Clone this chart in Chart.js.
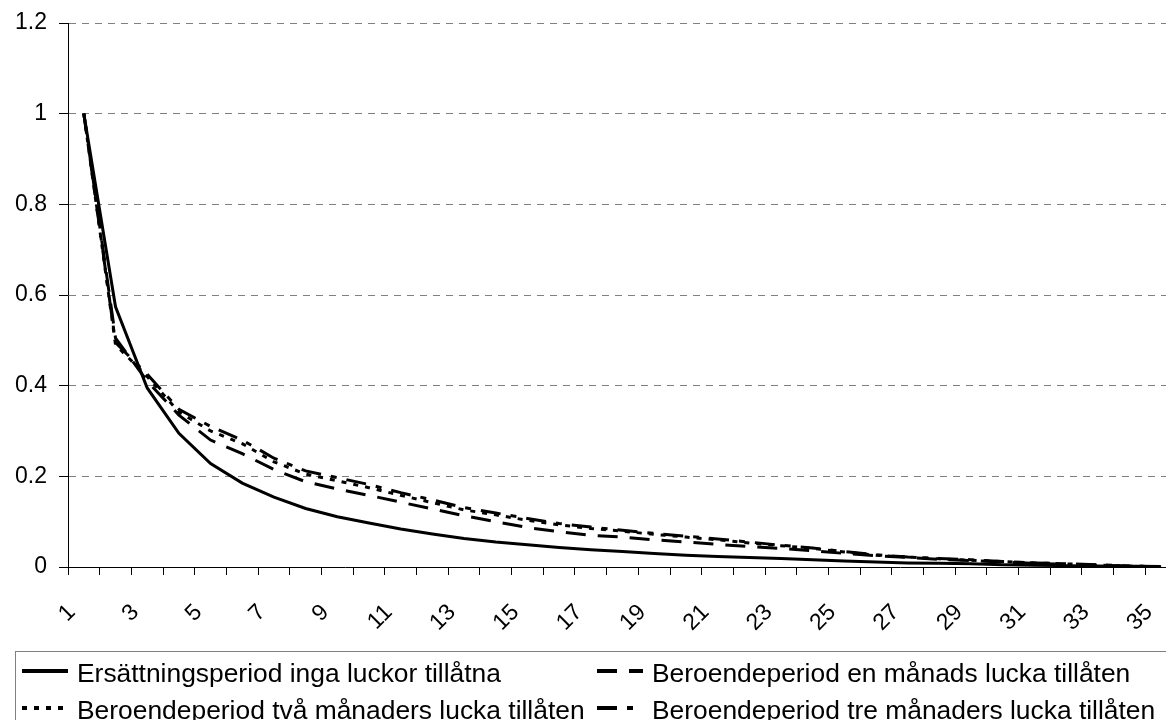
<!DOCTYPE html>
<html>
<head>
<meta charset="utf-8">
<script src="https://cdn.jsdelivr.net/npm/chart.js@4.4.0/dist/chart.umd.min.js"></script>
<style>
html,body{margin:0;padding:0;background:#fff;overflow:hidden;width:1166px;height:720px;}
#wrap{position:relative;width:1177px;height:720px;}
canvas{display:block;}
</style>
</head>
<body>
<div id="wrap"><canvas id="c" width="1177" height="720"></canvas></div>
<script>
// ---- data ----
const categories = Array.from({length: 35}, (_, i) => String(i + 1));
const seriesNames = [
  "Ersättningsperiod inga luckor tillåtna",
  "Beroendeperiod en månads lucka tillåten",
  "Beroendeperiod två månaders lucka tillåten",
  "Beroendeperiod tre månaders lucka tillåten"
];
const ersattningInga = [1, 0.574, 0.395, 0.295, 0.228, 0.185, 0.154, 0.129, 0.111, 0.097, 0.084, 0.073, 0.063, 0.055, 0.049, 0.043, 0.038, 0.034, 0.030, 0.026, 0.023, 0.021, 0.019, 0.016, 0.013, 0.011, 0.009, 0.008, 0.007, 0.005, 0.004, 0.003, 0.002, 0.001, 0];
const beroendeEn = [1, 0.505, 0.41, 0.335, 0.28, 0.25, 0.215, 0.188, 0.172, 0.158, 0.143, 0.128, 0.113, 0.1, 0.087, 0.078, 0.07, 0.066, 0.06, 0.055, 0.05, 0.045, 0.041, 0.036, 0.03, 0.025, 0.021, 0.017, 0.014, 0.011, 0.008, 0.006, 0.004, 0.002, 0.001];
const beroendeTva = [1, 0.49, 0.42, 0.342, 0.3, 0.272, 0.232, 0.205, 0.19, 0.175, 0.158, 0.142, 0.126, 0.115, 0.103, 0.093, 0.085, 0.079, 0.072, 0.066, 0.06, 0.053, 0.047, 0.041, 0.033, 0.026, 0.022, 0.018, 0.015, 0.012, 0.009, 0.007, 0.004, 0.002, 0.001];
const beroendeTre = [1, 0.495, 0.425, 0.348, 0.31, 0.28, 0.24, 0.212, 0.197, 0.182, 0.164, 0.148, 0.131, 0.119, 0.107, 0.096, 0.088, 0.081, 0.074, 0.068, 0.062, 0.055, 0.048, 0.042, 0.034, 0.027, 0.022, 0.019, 0.016, 0.012, 0.009, 0.007, 0.005, 0.002, 0.001];
const yTicks = [0, 0.2, 0.4, 0.6, 0.8, 1, 1.2];

// ---- styles ----
const dashes = [[], [20, 12], [5, 7], [20, 10, 6, 10]];
const FONT = '"Liberation Sans", Arial, sans-serif';

const boxLegend = {
  id: 'boxLegend',
  afterDraw(chart) {
    const ctx = chart.ctx;
    ctx.save();
    ctx.strokeStyle = '#808080';
    ctx.lineWidth = 1;
    ctx.setLineDash([]);
    ctx.strokeRect(15.5, 651.5, 1400, 200);
    const pos = [[22, 671], [597, 671], [22, 708], [597, 708]];
    chart.data.datasets.forEach((ds, i) => {
      const [x, y] = pos[i];
      ctx.strokeStyle = '#000';
      ctx.lineWidth = 4;
      ctx.lineCap = 'butt';
      ctx.setLineDash(ds.borderDash || []);
      ctx.beginPath();
      ctx.moveTo(x, y);
      ctx.lineTo(x + 46, y);
      ctx.stroke();
      ctx.setLineDash([]);
      ctx.fillStyle = '#000';
      ctx.font = '26.4px ' + FONT;
      ctx.textBaseline = 'alphabetic';
      ctx.textAlign = 'left';
      ctx.fillText(ds.label, x + 55, y + 11);
    });
    ctx.restore();
  }
};

const seriesData = [ersattningInga, beroendeEn, beroendeTva, beroendeTre];
new Chart(document.getElementById('c'), {
  type: 'line',
  data: {
    labels: categories,
    datasets: seriesData.map((d, i) => ({
      label: seriesNames[i],
      data: d,
      borderColor: '#000',
      borderWidth: 3,
      borderDash: dashes[i],
      borderCapStyle: 'butt',
      pointRadius: 0,
      tension: 0,
      fill: false
    }))
  },
  options: {
    responsive: false,
    animation: false,
    devicePixelRatio: 1,
    layout: {padding: {top: 23, left: 0, right: 0, bottom: 0}},
    plugins: {legend: {display: false}, tooltip: {enabled: false}},
    scales: {
      x: {
        type: 'category',
        offset: true,
        grid: {offset: true, drawOnChartArea: false, drawTicks: true, tickLength: 8, tickColor: '#000', tickWidth: 1},
        border: {display: true, color: '#000', width: 1},
        ticks: {
          autoSkip: false, minRotation: 45, maxRotation: 45, color: '#000', padding: 24, labelOffset: -12,
          font: {family: FONT, size: 23},
          callback: function(v, i) { return i % 2 === 0 ? categories[i] : ''; }
        },
        afterFit: s => { s.height = 153; s.paddingLeft = 0; s.paddingRight = 0; }
      },
      y: {
        min: 0, max: 1.2,
        afterBuildTicks: s => { s.ticks = yTicks.map(v => ({value: v})); },
        grid: {
          color: c => (c.tick && c.tick.value === 0) ? 'rgba(0,0,0,0)' : '#808080',
          lineWidth: 1, tickLength: 9, tickColor: '#000', tickWidth: 1, tickBorderDash: []
        },
        border: {display: true, color: '#000', width: 1, dash: [7, 6]},
        ticks: {
          color: '#000', padding: 12,
          font: {family: FONT, size: 23},
          callback: v => String(+Number(v).toFixed(1))
        },
        afterFit: s => { s.width = 68; s.paddingTop = 0; s.paddingBottom = 0; }
      }
    }
  },
  plugins: [boxLegend]
});
</script>
</body>
</html>
